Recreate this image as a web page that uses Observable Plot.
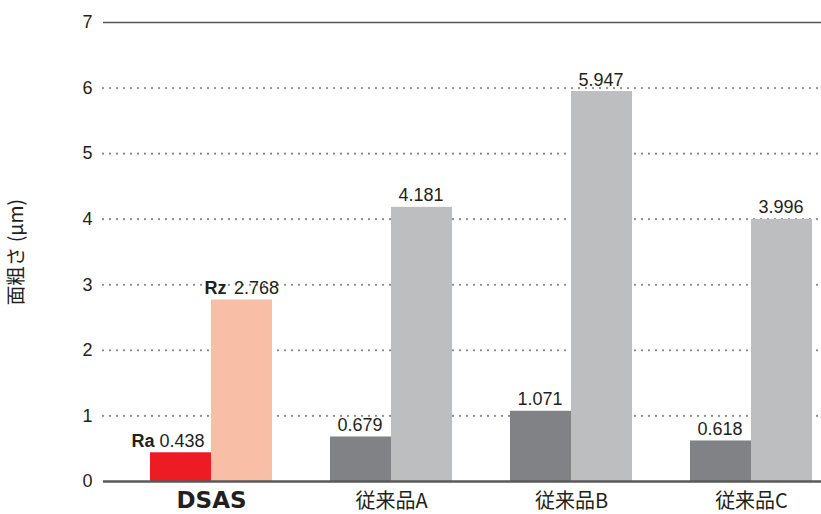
<!DOCTYPE html>
<html><head><meta charset="utf-8">
<script src="https://cdn.jsdelivr.net/npm/d3@7"></script>
<script src="https://cdn.jsdelivr.net/npm/@observablehq/plot@0.6"></script>
<style>
body{margin:0;background:#fff;}
#chart{width:821px;height:514px;}
</style></head><body><div id="chart"></div>
<script>
const groups = ["DSAS", "従来品A", "従来品B", "従来品C"];
const raValues = [0.438, 0.679, 1.071, 0.618];
const rzValues = [2.768, 4.181, 5.947, 3.996];
const yTicks = [0, 1, 2, 3, 4, 5, 6, 7];
const gridTicks = [1, 2, 3, 4, 5, 6];
const yTitle = "面粗さ (μm)";

const colors = {
  DSAS: {Ra: "#ed1c24", Rz: "#f8bea6"},
  other: {Ra: "#808285", Rz: "#bcbec0"}
};

const data = [];
groups.forEach((g, i) => {
  data.push({group: g, series: "Ra", value: raValues[i]});
  data.push({group: g, series: "Rz", value: rzValues[i]});
});
const ra = data.filter(d => d.series === "Ra");
const rz = data.filter(d => d.series === "Rz");
const fillOf = d => (d.group === "DSAS" ? colors.DSAS : colors.other)[d.series];
const fmt = d3.format(".3f");
const isDsas = d => d.group === "DSAS";
const half = 61;
const txt = "#231f20";
const latin = "'Liberation Sans', Arial, sans-serif";
const cjk = "'Noto Sans CJK JP', sans-serif";

const plot = Plot.plot({
  width: 821,
  height: 514,
  marginLeft: 103,
  marginRight: 0,
  marginTop: 22,
  marginBottom: 33,
  style: {fontFamily: latin, background: "#fff", color: txt},
  x: {type: "band", domain: groups, range: [149, 813], paddingInner: 0.3247, paddingOuter: 0, axis: null},
  y: {domain: [0, 7], axis: null},
  marks: [
    Plot.ruleY(gridTicks, {stroke: "#858585", strokeWidth: 2.2, strokeDasharray: "0,7", strokeLinecap: "round"}),
    Plot.ruleY([7], {stroke: "#555", strokeWidth: 1.5}),
    Plot.axisY({ticks: yTicks, tickFormat: d3.format("d"), tickSize: 0, tickPadding: 11, fontSize: 18, label: null, fill: txt, fontFamily: latin}),
    Plot.barY(ra, {x: "group", y: "value", fill: fillOf, insetRight: half}),
    Plot.barY(rz, {x: "group", y: "value", fill: fillOf, insetLeft: half}),
    Plot.ruleY([0], {stroke: "#595959", strokeWidth: 2.5}),
    // value labels (non-DSAS)
    Plot.text(ra.filter(d => !isDsas(d)), {x: "group", y: "value", text: d => fmt(d.value), dx: -31.5, dy: -6, lineAnchor: "bottom", fontSize: 18, fill: txt}),
    Plot.text(rz.filter(d => !isDsas(d)), {x: "group", y: "value", text: d => fmt(d.value), dx: 29.5, dy: -6, lineAnchor: "bottom", fontSize: 18, fill: txt}),
    // DSAS labels with bold prefixes
    Plot.text(ra.filter(isDsas), {x: "group", y: "value", text: d => fmt(d.value), dx: -29.5, dy: -6, lineAnchor: "bottom", fontSize: 18, fill: txt}),
    Plot.text(ra.filter(isDsas), {x: "group", y: "value", text: d => d.series, dx: -57, dy: -6, textAnchor: "end", lineAnchor: "bottom", fontSize: 18, fontWeight: "bold", fill: txt}),
    Plot.text(rz.filter(isDsas), {x: "group", y: "value", text: d => fmt(d.value), dx: 45, dy: -6, lineAnchor: "bottom", fontSize: 18, fill: txt}),
    Plot.text(rz.filter(isDsas), {x: "group", y: "value", text: d => d.series, dx: 15, dy: -6, textAnchor: "end", lineAnchor: "bottom", fontSize: 18, fontWeight: "bold", fill: txt}),
    // category labels
    Plot.text(groups.filter(g => g !== "DSAS"), {x: d => d, text: d => d, frameAnchor: "bottom", dy: 20, lineAnchor: "middle", fontSize: 20, fontFamily: cjk, fill: txt}),
    Plot.text(groups.filter(g => g === "DSAS"), {x: d => d, text: d => d, frameAnchor: "bottom", dy: 19, lineAnchor: "middle", fontSize: 23, fontWeight: "bold", fontFamily: "'DejaVu Sans', sans-serif", fill: txt}),
    // y title
    Plot.text([yTitle], {frameAnchor: "left", dx: -87, rotate: -90, textAnchor: "middle", fontSize: 19.5, fontFamily: cjk, fill: txt})
  ]
});
document.getElementById("chart").appendChild(plot);
</script>
</body></html>
